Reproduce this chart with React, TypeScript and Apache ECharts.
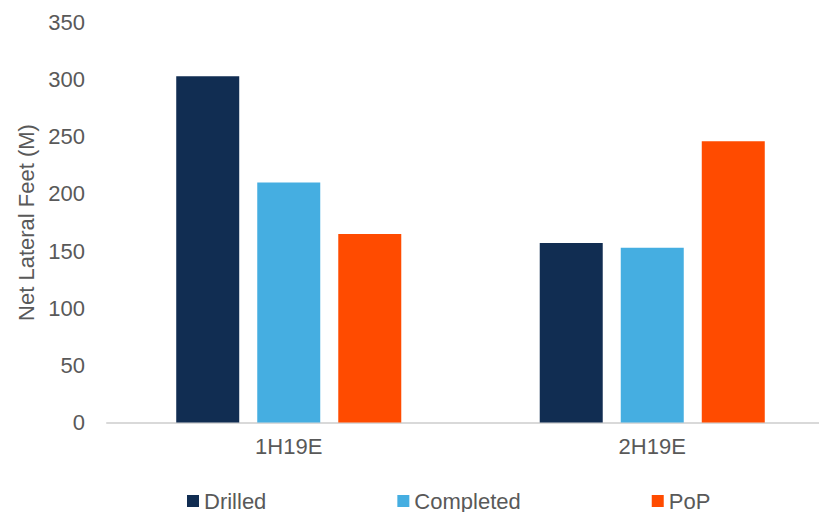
import React, { useEffect, useRef } from "react";
import * as echarts from "echarts";

const categories = ["1H19E", "2H19E"];
const drilled = [303, 157];
const completed = [210, 153];
const pop = [165, 246];
const seriesNames = ["Drilled", "Completed", "PoP"];
const yTitle = "Net Lateral Feet (M)";

const FONT = "'Liberation Sans', Arial, sans-serif";
const GREY = "#595959";

export default function App() {
  const ref = useRef<HTMLDivElement>(null);
  useEffect(() => {
    if (!ref.current) return;
    const chart = echarts.init(ref.current, null, { renderer: "svg" });
    chart.setOption({
      animation: false,
      backgroundColor: "#ffffff",
      textStyle: { fontFamily: FONT },
      grid: { left: 107, top: 22.5, right: -15, bottom: 89.5, containLabel: false, outerBoundsMode: "none" },
      legend: {
        data: seriesNames,
        left: 182,
        top: 485,
        itemWidth: 12,
        itemHeight: 12,
        itemGap: 131,
        icon: "rect",
        textStyle: { fontFamily: FONT, fontSize: 22, color: GREY },
      },
      xAxis: {
        type: "category",
        data: categories,
        axisLine: { lineStyle: { color: "#d9d9d9", width: 2 } },
        axisTick: { show: false },
        axisLabel: { fontFamily: FONT, fontSize: 22, color: GREY, margin: 13 },
      },
      yAxis: {
        type: "value",
        min: 0,
        max: 350,
        interval: 50,
        name: yTitle,
        nameLocation: "middle",
        nameGap: 70,
        nameTextStyle: { fontFamily: FONT, fontSize: 22, color: GREY },
        axisLine: { show: false },
        axisTick: { show: false },
        splitLine: { show: false },
        axisLabel: { fontFamily: FONT, fontSize: 22, color: GREY, margin: 22 },
      },
      series: [
        { name: seriesNames[0], type: "bar", data: drilled, barWidth: 63, barGap: "28.6%", itemStyle: { color: "#112D52" } },
        { name: seriesNames[1], type: "bar", data: completed, barWidth: 63, barGap: "28.6%", itemStyle: { color: "#45AEE1" } },
        { name: seriesNames[2], type: "bar", data: pop, barWidth: 63, barGap: "28.6%", itemStyle: { color: "#FF4B00" } },
      ],
    });
    return () => chart.dispose();
  }, []);
  return <div ref={ref} style={{ width: 819, height: 512, position: "fixed", left: 0, top: 0 }} />;
}
